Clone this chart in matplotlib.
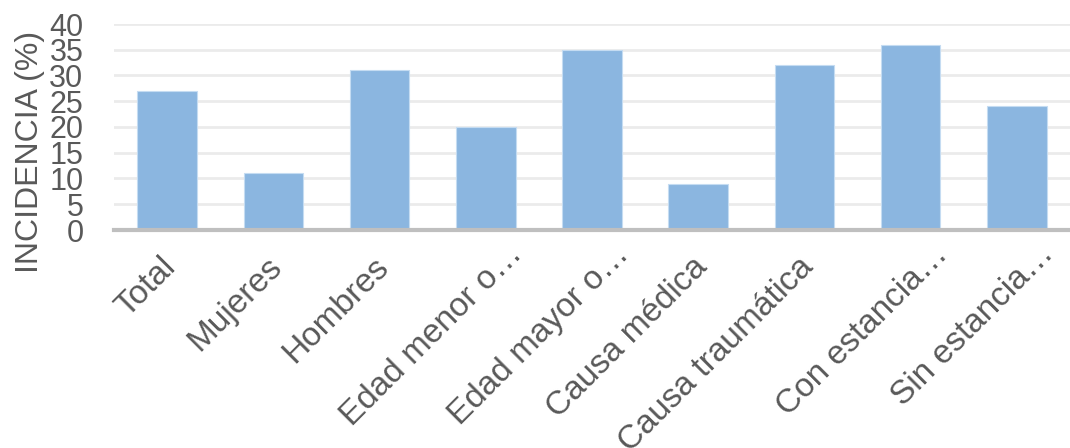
import matplotlib
matplotlib.use("Agg")
import matplotlib.pyplot as plt
import matplotlib.transforms as mtransforms

categories = ["Total", "Mujeres", "Hombres", "Edad menor o…", "Edad mayor o…",
              "Causa médica", "Causa traumática", "Con estancia…", "Sin estancia…"]
values = [27, 11, 31, 20, 35, 9, 32, 36, 24]
yticks = [0, 5, 10, 15, 20, 25, 30, 35, 40]

plt.rcParams['font.family'] = ['Liberation Sans', 'DejaVu Sans']

fig = plt.figure(figsize=(10.7, 4.48), dpi=100)
ax = fig.add_axes([114/1070, 1-230/448, (1070-114)/1070, (230-24)/448])

x = list(range(len(categories)))
ax.bar(x, values, width=0.56, color='#8bb6e0', edgecolor='#c5dcf2', linewidth=0.8, zorder=3)
ax.set_xlim(-0.5, len(categories)-0.5)
ax.set_ylim(0, 40)
ax.set_yticks(yticks)
ax.yaxis.grid(True, color='#ebebeb', linewidth=2, zorder=0)
for s in ['top', 'right', 'left']:
    ax.spines[s].set_visible(False)
ax.spines['bottom'].set_color('#bfbfbf')
ax.spines['bottom'].set_linewidth(3)
ax.spines['bottom'].set_zorder(4)
ax.tick_params(axis='y', length=0, pad=22, labelsize=22, labelcolor='#595959')
ax.tick_params(axis='x', length=0, pad=9, labelsize=24, labelcolor='#595959')
ax.set_xticks(x)
ax.set_xticklabels(categories, rotation=45, ha='right', rotation_mode='anchor')
for lab in ax.get_xticklabels():
    if lab.get_text().endswith("…"):
        off = mtransforms.ScaledTranslation(21/100, 4/100, fig.dpi_scale_trans)
    else:
        off = mtransforms.ScaledTranslation(-7/100, -9/100, fig.dpi_scale_trans)
    lab.set_transform(lab.get_transform() + off)
ax.set_ylabel("INCIDENCIA (%)", fontsize=23, color='#595959')
ax.yaxis.set_label_coords(-69/956, 0.379)

fig.savefig("out.png", dpi=100)
